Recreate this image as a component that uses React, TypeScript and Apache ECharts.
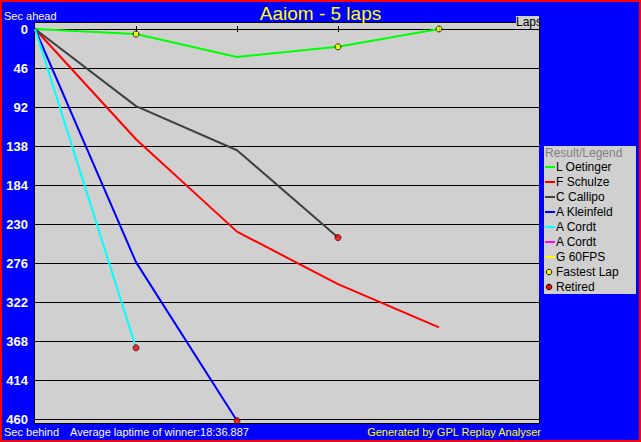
import React, { useEffect, useRef } from 'react';
import * as echarts from 'echarts';

const titleText = 'Aaiom - 5 laps';
const lapCount = 5;
const yMax = 460;
const yStep = 46;
const driverNames = ['L Oetinger', 'F Schulze', 'C Callipo', 'A Kleinfeld', 'A Cordt', 'A Cordt', 'G 60FPS'];
const driverColors = ['#00ff00', '#ff0000', '#404040', '#0000ff', '#00ffff', '#ff00ff', '#ffff00'];
// seconds behind the leader at end of each lap (lap 0 .. n)
const oetinger = [0, 6, 33, 21, 0];
const schulze = [0, 130, 239, 301, 352];
const callipo = [0, 91, 143, 246];
const kleinfeld = [0, 275, 462];
const cordt = [0, 376];
const cordt2: number[] = [];
const g60fps: number[] = [];
const driverValues = [oetinger, schulze, callipo, kleinfeld, cordt, cordt2, g60fps];
const fastestLaps = [[1, 6], [3, 21], [4, 0]];
const retired = [[3, 246], [2, 462], [1, 376]];
const lapTicks = [1, 2, 3, 4];
const averageText = 'Average laptime of winner:18:36.887';

const FONT = 'Liberation Sans, Arial, sans-serif';

export default function App() {
  const ref = useRef<HTMLDivElement>(null);
  useEffect(() => {
    if (!ref.current) return;
    const chart = echarts.init(ref.current, undefined, { renderer: 'svg' });

    const lineSeries = driverNames.map((name, i) => ({
      type: 'line',
      name,
      data: driverValues[i].map((v, lap) => [lap, v]),
      symbol: 'none',
      clip: false,
      lineStyle: { color: driverColors[i], width: 2 },
      itemStyle: { color: driverColors[i] },
      z: 3,
    }));

    const legendItems: any[] = [];
    legendItems.push({ type: 'rect', z: 40, shape: { x: 539, y: 143, width: 100, height: 155 }, style: { fill: '#0000ff' } });
    legendItems.push({ type: 'rect', z: 41, shape: { x: 544, y: 146, width: 92, height: 148 }, style: { fill: '#d0d0d0' } });
    legendItems.push({ type: 'text', z: 42, x: 545, y: 153, style: { text: 'Result/Legend', fill: '#808080', font: `12px ${FONT}`, verticalAlign: 'middle' } });
    driverNames.forEach((name, i) => {
      const cy = 167 + 15 * i;
      legendItems.push({ type: 'rect', z: 42, shape: { x: 545, y: cy - 1, width: 10, height: 2 }, style: { fill: driverColors[i] } });
      legendItems.push({ type: 'text', z: 42, x: 556, y: cy, style: { text: name, fill: '#000', font: `12px ${FONT}`, verticalAlign: 'middle' } });
    });
    const extra = [
      { name: 'Fastest Lap', color: '#ffff00' },
      { name: 'Retired', color: '#ff0000' },
    ];
    extra.forEach((e, k) => {
      const cy = 167 + 15 * (driverNames.length + k);
      legendItems.push({ type: 'circle', z: 42, shape: { cx: 549, cy, r: 2.8 }, style: { fill: e.color, stroke: '#000', lineWidth: 1 } });
      legendItems.push({ type: 'text', z: 42, x: 556, y: cy, style: { text: e.name, fill: '#000', font: `12px ${FONT}`, verticalAlign: 'middle' } });
    });

    const option: any = {
      animation: false,
      backgroundColor: '#0000ff',
      title: {
        text: titleText,
        left: 'center',
        top: 4,
        padding: 0,
        textStyle: { color: '#ffff00', fontSize: 19, fontWeight: 'normal', fontFamily: FONT },
      },
      grid: { left: 35, right: 101, top: 29, bottom: 23, containLabel: false },
      xAxis: [
        {
          type: 'value', position: 'top', min: 0, max: lapCount, interval: 1,
          axisLine: { show: true, lineStyle: { color: '#000', width: 1 } },
          axisTick: { show: true, length: 3, inside: false, customValues: lapTicks, lineStyle: { color: '#000' } },
          axisLabel: { show: false },
          splitLine: { show: false },
        },
        {
          type: 'value', position: 'top', min: 0, max: lapCount, interval: 1,
          axisLine: { show: false },
          axisTick: { show: true, length: 3, inside: true, customValues: lapTicks, lineStyle: { color: '#000' } },
          axisLabel: { show: false },
          splitLine: { show: false },
        },
      ],
      yAxis: {
        type: 'value', inverse: true, min: 0, max: yMax, interval: yStep,
        axisLine: { show: false },
        axisTick: { show: false },
        axisLabel: { color: '#ffffff', fontWeight: 'bold', fontSize: 13, fontFamily: FONT, margin: 7 },
        splitLine: { show: true, lineStyle: { color: '#000', width: 1 } },
      },
      series: [
        ...lineSeries,
        {
          type: 'scatter', name: 'Fastest Lap', data: fastestLaps, symbol: 'circle', symbolSize: 6, clip: false, z: 5,
          itemStyle: { color: '#ffff00', borderColor: '#000', borderWidth: 1 },
        },
        {
          type: 'scatter', name: 'Retired', data: retired, symbol: 'circle', symbolSize: 6, clip: false, z: 5,
          itemStyle: { color: '#ff0000', borderColor: '#400000', borderWidth: 1 },
        },
      ],
      graphic: [
        { type: 'rect', z: -1, shape: { x: 34.5, y: 22.5, width: 505, height: 401 }, style: { fill: '#d0d0d0', stroke: '#000', lineWidth: 1 } },
        { type: 'rect', z: 30, shape: { x: 516, y: 16, width: 23, height: 12 }, style: { fill: '#d0d0d0' } },
        { type: 'text', z: 31, x: 516, y: 22, style: { text: 'Laps', fill: '#000', font: `12px ${FONT}`, verticalAlign: 'middle' } },
        { type: 'text', z: 31, x: 4, y: 16, style: { text: 'Sec ahead', fill: '#fff', font: `11px ${FONT}`, verticalAlign: 'middle' } },
        { type: 'rect', z: 50, shape: { x: 0, y: 424, width: 641, height: 18 }, style: { fill: '#0000ff' } },
        { type: 'text', z: 51, x: 4, y: 432, style: { text: 'Sec behind', fill: '#fff', font: `11px ${FONT}`, verticalAlign: 'middle' } },
        { type: 'text', z: 51, x: 70, y: 432, style: { text: averageText, fill: '#fff', font: `11px ${FONT}`, verticalAlign: 'middle' } },
        { type: 'text', z: 51, x: 541, y: 432, style: { text: 'Generated by GPL Replay Analyser', fill: '#ffff00', font: `11px ${FONT}`, verticalAlign: 'middle', align: 'right' } },
        ...legendItems,
        { type: 'rect', z: 100, shape: { x: 1, y: 1, width: 639, height: 440 }, style: { fill: 'none', stroke: '#ff0000', lineWidth: 2 } },
      ],
    };
    chart.setOption(option);
    return () => chart.dispose();
  }, []);
  return <div ref={ref} style={{ position: 'fixed', left: 0, top: 0, width: 641, height: 442 }} />;
}
